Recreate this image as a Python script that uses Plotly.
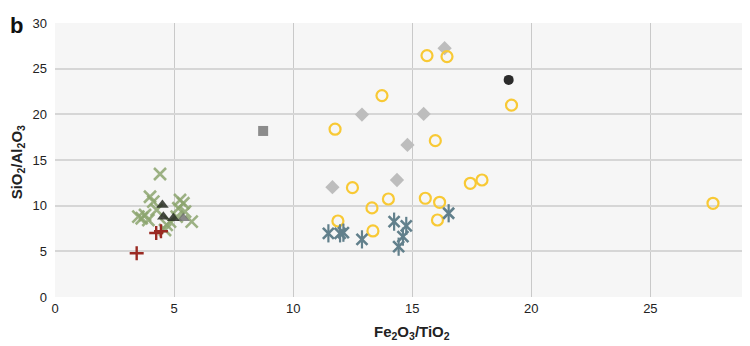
import plotly.graph_objects as go

# Green X series
green_x = [4.41, 3.99, 4.13, 3.78, 3.64, 3.92, 4.27, 4.62, 4.83, 5.25, 5.39, 5.18, 5.46, 5.74, 5.11, 4.69, 3.50]
green_y = [13.47, 10.98, 10.44, 8.98, 8.62, 8.43, 9.53, 7.34, 8.25, 10.62, 10.26, 9.72, 9.34, 8.25, 8.80, 7.89, 8.80]

# Red plus series
red_x = [3.43, 4.25, 4.45]
red_y = [4.79, 7.00, 7.20]

# Dark triangles
tri_x = [4.51, 4.55, 4.97]
tri_y = [10.08, 8.80, 8.62]

# Gray triangle
gtri_x = [5.39]
gtri_y = [8.62]

# Gray square
sq_x = [8.74]
sq_y = [18.18]

# Blue-gray asterisks
ast_x = [11.48, 11.97, 12.11, 12.89, 14.24, 14.75, 14.61, 14.43, 16.53]
ast_y = [6.97, 6.97, 7.04, 6.31, 8.25, 7.78, 6.61, 5.51, 9.17]

# Yellow open circles
circ_x = [12.49, 14.00, 13.31, 11.88, 13.35, 15.55, 16.15, 16.06, 17.44, 17.93,
          15.62, 16.46, 13.73, 11.76, 15.97, 19.17, 27.63]
circ_y = [11.97, 10.73, 9.75, 8.32, 7.23, 10.81, 10.37, 8.43, 12.45, 12.81,
          26.43, 26.32, 22.05, 18.37, 17.12, 21.00, 10.26]

# Gray diamonds
dia_x = [16.36, 12.89, 15.48, 14.80, 14.36, 11.65]
dia_y = [27.24, 19.97, 20.04, 16.65, 12.81, 12.02]

# Black dot
dot_x = [19.05]
dot_y = [23.77]

YELLOW = "#f8c935"
BLUE = "#62808c"
GREEN = "rgba(140,165,110,0.85)"
RED = "#9a2a22"

fig = go.Figure()

fig.add_trace(go.Scatter(x=dia_x, y=dia_y, mode="markers",
                         marker=dict(symbol="diamond", size=11, color="#bdbdbd")))
fig.add_trace(go.Scatter(x=circ_x, y=circ_y, mode="markers",
                         marker=dict(symbol="circle-open", size=11, color=YELLOW,
                                     line=dict(width=2.2, color=YELLOW))))
fig.add_trace(go.Scatter(x=ast_x, y=ast_y, mode="markers",
                         marker=dict(symbol="x-thin-open", size=11, color=BLUE,
                                     line=dict(width=2.6, color=BLUE))))
fig.add_trace(go.Scatter(x=ast_x, y=ast_y, mode="markers",
                         marker=dict(symbol="line-ns-open", size=13, color=BLUE,
                                     line=dict(width=2.2, color=BLUE))))
fig.add_trace(go.Scatter(x=green_x, y=green_y, mode="markers",
                         marker=dict(symbol="x-thin-open", size=12, color=GREEN,
                                     line=dict(width=2.6, color=GREEN))))
fig.add_trace(go.Scatter(x=gtri_x, y=gtri_y, mode="markers",
                         marker=dict(symbol="triangle-up", size=11, color="rgba(110,110,110,0.8)")))
fig.add_trace(go.Scatter(x=tri_x, y=tri_y, mode="markers",
                         marker=dict(symbol="triangle-up", size=11, color="rgba(40,45,35,0.85)")))
fig.add_trace(go.Scatter(x=red_x, y=red_y, mode="markers",
                         marker=dict(symbol="cross-thin-open", size=10, color=RED,
                                     line=dict(width=2.4, color=RED))))
fig.add_trace(go.Scatter(x=sq_x, y=sq_y, mode="markers",
                         marker=dict(symbol="square", size=10, color="#8c8c8c")))
fig.add_trace(go.Scatter(x=dot_x, y=dot_y, mode="markers",
                         marker=dict(symbol="circle", size=10, color="#2b2b2b")))

fig.update_layout(
    width=742, height=338,
    margin=dict(l=47, r=2, t=15, b=49),
    paper_bgcolor="white",
    plot_bgcolor="#f6f6f6",
    showlegend=False,
    font=dict(family="Liberation Sans, Arial, sans-serif", size=13, color="#222"),
    xaxis=dict(range=[0, 29.1], tickvals=[0, 5, 10, 15, 20, 25],
               showgrid=True, gridcolor="#c9c9c9", gridwidth=1, zeroline=False,
               ticks="", showline=False, automargin=False, ticklabelstandoff=2),
    yaxis=dict(range=[0, 30], tickvals=[0, 5, 10, 15, 20, 25, 30],
               showgrid=True, gridcolor="#d6d6d6", gridwidth=1.5, zeroline=False,
               ticks="", showline=False, automargin=False, ticklabelstandoff=7),
    annotations=[
        dict(text="<b>b</b>", x=-0.068, y=1.045, xref="paper", yref="paper",
             xanchor="left", yanchor="top", showarrow=False,
             font=dict(size=22, color="#111")),
        dict(text="<b>Fe<sub>2</sub>O<sub>3</sub>/TiO<sub>2</sub></b>",
             x=0.515, y=-0.131, xref="paper", yref="paper",
             xanchor="center", yanchor="middle", showarrow=False,
             font=dict(size=15, color="#222")),
        dict(text="<b>SiO<sub>2</sub>/Al<sub>2</sub>O<sub>3</sub></b>",
             x=-0.054, y=0.49, xref="paper", yref="paper", textangle=-90,
             xanchor="center", yanchor="middle", showarrow=False,
             font=dict(size=15, color="#222")),
    ],
)

fig.write_html("out.html")
